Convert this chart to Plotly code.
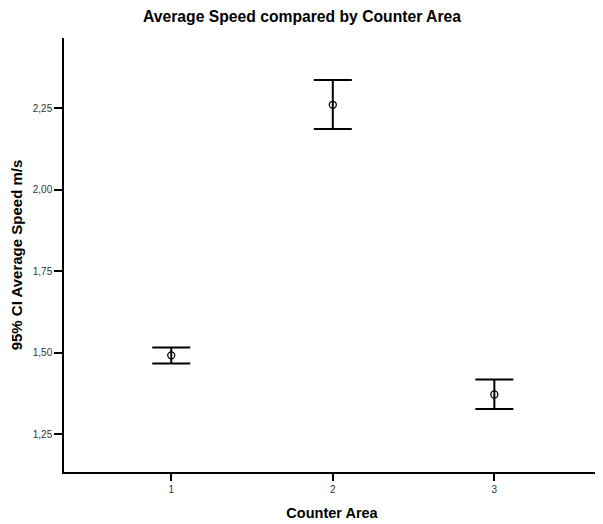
import plotly.graph_objects as go

areas = [1, 2, 3]
means = [1.492, 2.261, 1.372]
upper = [1.516, 2.337, 1.418]
lower = [1.467, 2.187, 1.327]
y_ticks = [1.25, 1.50, 1.75, 2.00, 2.25]
y_tick_labels = ["1,25", "1,50", "1,75", "2,00", "2,25"]

err_plus = [u - m for u, m in zip(upper, means)]
err_minus = [m - l for m, l in zip(means, lower)]

# The page body has an 8px default margin, so the figure is sized to fit the window.
W, H = 595, 516

fig = go.Figure()
fig.add_trace(go.Scatter(
    x=areas, y=means, mode="markers",
    marker=dict(symbol="circle-open", size=7, color="black", line=dict(width=1.3)),
    error_y=dict(type="data", symmetric=False, array=err_plus, arrayminus=err_minus,
                 color="black", thickness=2, width=19),
    showlegend=False,
))

fig.update_layout(
    width=W, height=H,
    margin=dict(l=56, r=3, t=30, b=52),
    plot_bgcolor="white", paper_bgcolor="white",
    font=dict(family="Liberation Sans, Arial, sans-serif", color="black"),
    title=dict(text="<b>Average Speed compared by Counter Area</b>",
               xref="container", x=294 / W, xanchor="center",
               yref="container", y=1 - 9 / H, yanchor="middle",
               font=dict(size=15.7, color="black")),
    xaxis=dict(range=[0.336, 3.654], tickvals=areas, ticktext=[str(a) for a in areas],
               showline=True, linecolor="black", linewidth=1.5, ticks="outside", ticklen=7,
               tickwidth=1.5, tickcolor="black", showgrid=False, zeroline=False,
               automargin=False,
               tickfont=dict(size=10, color="#333"),
               title=dict(text="<b>Counter Area</b>", font=dict(size=14.5), standoff=14)),
    yaxis=dict(range=[1.134, 2.466], tickvals=y_ticks, ticktext=y_tick_labels,
               showline=True, linecolor="black", linewidth=1.5, ticks="outside", ticklen=8,
               tickwidth=1.5, tickcolor="black", showgrid=False, zeroline=False,
               automargin=False,
               tickfont=dict(size=10, color="#333"),
               title=dict(text="<b>95% CI Average Speed m/s</b>", font=dict(size=15), standoff=16)),
)

fig.write_html("out.html")
